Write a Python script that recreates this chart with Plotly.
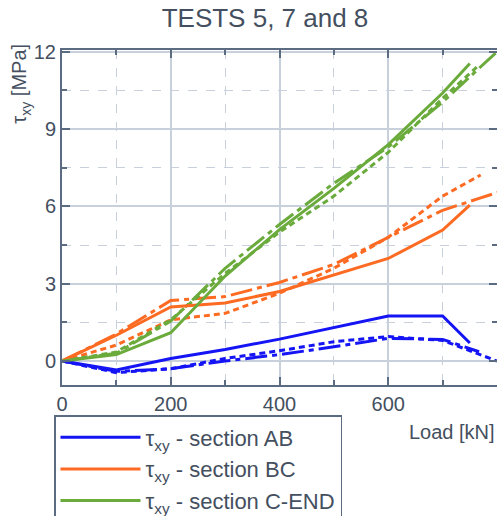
import plotly.graph_objects as go

# ---- data ----
load_std = [0, 100, 200, 300, 400, 500, 600, 700]

ab_solid_x = load_std + [750]
ab_solid_y = [0, -0.35, 0.1, 0.45, 0.85, 1.3, 1.75, 1.75, 0.7]
ab_dashdot_x = load_std + [767]
ab_dashdot_y = [0, -0.4, -0.3, 0.0, 0.25, 0.55, 0.88, 0.84, 0.36]
ab_dot_x = load_std + [800]
ab_dot_y = [0, -0.45, -0.3, 0.1, 0.4, 0.75, 0.95, 0.8, 0.0]

bc_solid_x = load_std + [750]
bc_solid_y = [0, 1.0, 2.1, 2.25, 2.7, 3.35, 3.98, 5.08, 6.05]
bc_dashdot_x = load_std + [767, 810]
bc_dashdot_y = [0, 1.05, 2.35, 2.5, 3.05, 3.75, 4.8, 5.85, 6.31, 6.6]
bc_dot_x = load_std + [770]
bc_dot_y = [0, 0.62, 1.6, 1.85, 2.63, 3.6, 4.8, 6.4, 7.22]

ce_solid_x = load_std + [750]
ce_solid_y = [0, 0.25, 1.1, 3.3, 5.1, 6.7, 8.4, 10.4, 11.55]
ce_dashdot_x = load_std + [810]
ce_dashdot_y = [0, 0.3, 1.55, 3.6, 5.3, 6.9, 8.3, 10.05, 12.2]
ce_dot_x = load_std + [765]
ce_dot_y = [0, 0.35, 1.6, 3.4, 5.0, 6.4, 8.1, 10.2, 11.45]

legend_names = ["τ<sub>xy</sub> - section AB", "τ<sub>xy</sub> - section BC", "τ<sub>xy</sub> - section C-END"]
colors = ["#1414f5", "#fd6a22", "#6aab3c"]

x_ticks = [0, 200, 400, 600]
y_ticks = [0, 3, 6, 9, 12]

DOT = "6px,4px"
DASHDOT = "22px,5px,5px,5px"

fig = go.Figure()

series = [
    (ab_solid_x, ab_solid_y, ab_dashdot_x, ab_dashdot_y, ab_dot_x, ab_dot_y),
    (bc_solid_x, bc_solid_y, bc_dashdot_x, bc_dashdot_y, bc_dot_x, bc_dot_y),
    (ce_solid_x, ce_solid_y, ce_dashdot_x, ce_dashdot_y, ce_dot_x, ce_dot_y),
]

for i, (sx, sy, dx, dy, ox, oy) in enumerate(series):
    c = colors[i]
    fig.add_trace(go.Scatter(x=ox, y=oy, mode="lines", line=dict(color=c, width=3, dash=DOT),
                             showlegend=False, hoverinfo="skip"))
    fig.add_trace(go.Scatter(x=dx, y=dy, mode="lines", line=dict(color=c, width=3, dash=DASHDOT),
                             showlegend=False, hoverinfo="skip"))

for i, (sx, sy, dx, dy, ox, oy) in enumerate(series):
    fig.add_trace(go.Scatter(x=sx, y=sy, mode="lines", name=legend_names[i],
                             line=dict(color=colors[i], width=3)))

axis_col = "#5b6b82"
grid_col = "#c8d0dc"
text_col = "#444f60"

fig.update_layout(
    width=497, height=516,
    margin=dict(l=62, r=0, t=50, b=131, autoexpand=False),
    paper_bgcolor="white", plot_bgcolor="white",
    font=dict(family="Liberation Sans, Arial, sans-serif", color=text_col, size=20),
    title=dict(text="TESTS 5, 7 and 8", x=265 / 497, xanchor="center", y=1 - 18 / 516, yanchor="middle",
               font=dict(size=26, color=text_col)),
    xaxis=dict(range=[0, 800], tickvals=x_ticks, ticktext=[str(v) for v in x_ticks],
               showline=True, linecolor=axis_col, linewidth=2, mirror="ticks",
               ticks="inside", ticklen=8, tickcolor=axis_col, tickwidth=1.5,
               showgrid=True, gridcolor=grid_col, gridwidth=1.5, zeroline=False,
               tickfont=dict(size=20, color=text_col),
               minor=dict(dtick=100, ticks="inside", ticklen=5, tickcolor=axis_col,
                          showgrid=True, gridcolor=grid_col, griddash="dash", gridwidth=1)),
    yaxis=dict(range=[-0.93, 12.07], tickvals=y_ticks, ticktext=[str(v) for v in y_ticks],
               showline=True, linecolor=axis_col, linewidth=2, mirror="ticks",
               ticks="inside", ticklen=8, tickcolor=axis_col, tickwidth=1.5,
               showgrid=True, gridcolor=grid_col, gridwidth=1.5, zeroline=False,
               tickfont=dict(size=20, color=text_col),
               minor=dict(dtick=1.5, tick0=0, ticks="inside", ticklen=5, tickcolor=axis_col,
                          showgrid=True, gridcolor=grid_col, griddash="dash", gridwidth=1)),
    legend=dict(xref="container", yref="container", x=54 / 497, y=1 - 415 / 516,
                xanchor="left", yanchor="top", bordercolor=axis_col, borderwidth=1.5,
                bgcolor="white", font=dict(size=22, color=text_col), itemwidth=80,
                tracegroupgap=0),
    annotations=[
        dict(text="τ<sub>xy</sub> [MPa]", xref="paper", yref="paper", x=-41 / 435, y=1.025,
             xanchor="center", yanchor="top", textangle=-90, showarrow=False,
             font=dict(size=20, color=text_col)),
        dict(text="Load [kN]", xref="paper", yref="paper", x=1.0, y=-47 / 335,
             xanchor="right", yanchor="middle", showarrow=False,
             font=dict(size=20, color=text_col)),
    ],
)

fig.write_html("out.html")
